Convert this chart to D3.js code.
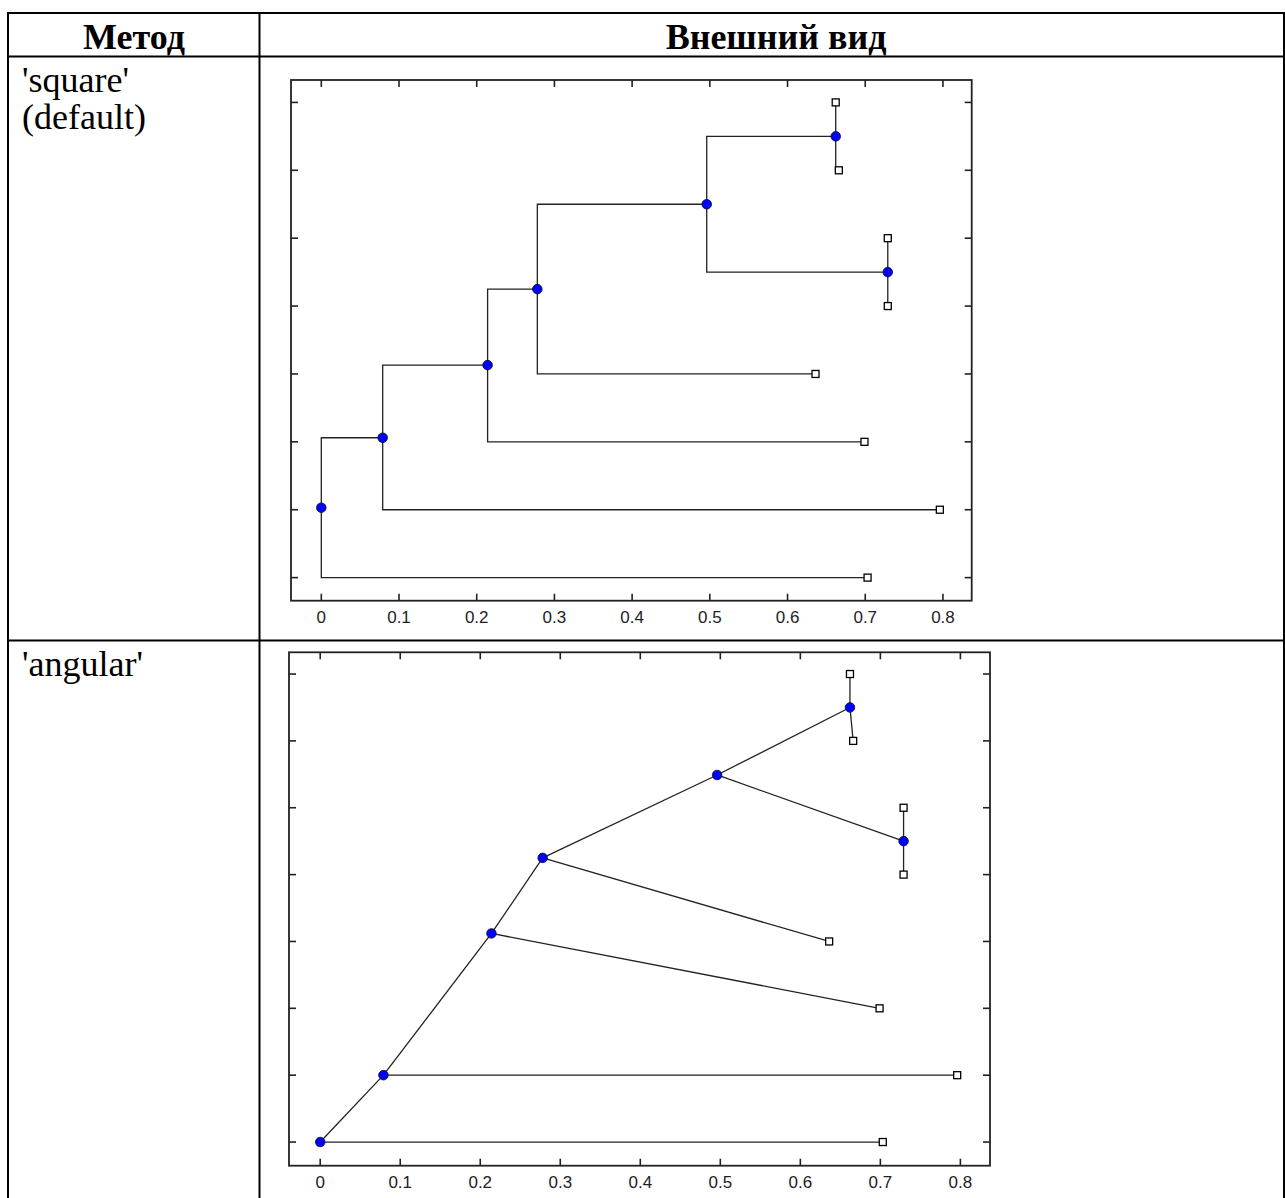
<!DOCTYPE html>
<html>
<head>
<meta charset="utf-8">
<script src="https://cdn.jsdelivr.net/npm/d3@7"></script>
<style>
	body { margin: 0; background: #fff; }
	.cell-text { font-family: "Liberation Serif", "Times New Roman", serif; font-size: 36px; fill: #000; }
	.method { font-size: 36px; }
	.head { font-weight: bold; }
	.tick-label { font-family: "Liberation Sans", Arial, sans-serif; font-size: 17px; fill: #222; }
</style>
</head>
<body>
<svg id="page"></svg>
<script>
// tree nodes: 8 leaves (bottom to top), then 7 internal nodes
const nodeIds = ["L1", "L2", "L3", "L4", "L5", "L6", "L7", "L8", "N1", "N2", "N3", "N4", "N5", "N6", "N7"];
const parentOf = ["N1", "N2", "N3", "N4", "N7", "N7", "N6", "N6", null, "N1", "N2", "N3", "N4", "N5", "N5"];
// distance from root (x)
const nodeDist = [0.703, 0.796, 0.699, 0.636, 0.729, 0.729, 0.666, 0.662, 0, 0.079, 0.214, 0.278, 0.496, 0.662, 0.729];
// vertical positions in each layout
const squareY = [1, 2, 3, 4, 5, 6, 7, 8, 2.03, 3.06, 4.13, 5.25, 6.5, 7.5, 5.5];
const angularY = [1, 2, 3, 4, 5, 6, 7, 8, 1, 2, 4.12, 5.25, 6.49, 7.5, 5.5];

const xTicks = [0, 0.1, 0.2, 0.3, 0.4, 0.5, 0.6, 0.7, 0.8];
const xTickLabels = ["0", "0.1", "0.2", "0.3", "0.4", "0.5", "0.6", "0.7", "0.8"];
const yTicks = [1, 2, 3, 4, 5, 6, 7, 8];

const methods = ["'square'\n(default)", "'angular'"];
const headers = ["Метод", "Внешний вид"];

var W = 1285, H = 1198;
var svg = d3.select("#page").attr("width", W).attr("height", H);

// table grid
var grid = svg.append("g").attr("stroke", "#000").attr("stroke-width", 2);
[[8, 13, 1284, 13], [8, 56.5, 1284, 56.5], [8, 640.5, 1284, 640.5],
 [8, 12, 8, H], [259.5, 12, 259.5, H], [1284, 12, 1284, H]].forEach(l => {
	grid.append("line").attr("x1", l[0]).attr("y1", l[1]).attr("x2", l[2]).attr("y2", l[3]);
});

svg.append("text").attr("class", "cell-text head").attr("x", 134).attr("y", 49)
	.attr("text-anchor", "middle").text(headers[0]);
svg.append("text").attr("class", "cell-text head").attr("x", 776).attr("y", 49)
	.attr("text-anchor", "middle").text(headers[1]);

function methodLabel(txt, y0) {
	var t = svg.append("text").attr("class", "cell-text method").attr("x", 22).attr("y", y0);
	txt.split("\n").forEach((s, i) => {
		t.append("tspan").attr("x", 22).attr("dy", i == 0 ? 0 : 36.5).text(s);
	});
}
methodLabel(methods[0], 92);
methodLabel(methods[1], 676);

function drawTree(box, yDomain, nodeY, type) {
	var x = d3.scaleLinear().domain([-0.039, 0.837]).range([box.x0, box.x1]);
	var y = d3.scaleLinear().domain(yDomain).range([box.y1, box.y0]);
	var g = svg.append("g");

	// tree edges
	var edges = g.append("g").attr("fill", "none").attr("stroke", "#222").attr("stroke-width", 1.3);
	nodeIds.forEach((id, i) => {
		var p = parentOf[i];
		if (!p) return;
		var j = nodeIds.indexOf(p);
		var px = x(nodeDist[j]), py = y(nodeY[j]);
		var cx = x(nodeDist[i]), cy = y(nodeY[i]);
		var d = type == "square"
			? "M" + px + "," + py + "V" + cy + "H" + cx
			: "M" + px + "," + py + "L" + cx + "," + cy;
		edges.append("path").attr("d", d);
	});

	// box and ticks
	g.append("rect").attr("x", box.x0).attr("y", box.y0)
		.attr("width", box.x1 - box.x0).attr("height", box.y1 - box.y0)
		.attr("fill", "none").attr("stroke", "#222").attr("stroke-width", 1.8);

	var tl = 7;
	var ax = g.append("g").attr("stroke", "#222").attr("stroke-width", 1.6);
	xTicks.forEach(v => {
		ax.append("line").attr("x1", x(v)).attr("x2", x(v)).attr("y1", box.y1).attr("y2", box.y1 - tl);
		ax.append("line").attr("x1", x(v)).attr("x2", x(v)).attr("y1", box.y0).attr("y2", box.y0 + tl);
	});
	yTicks.forEach(v => {
		ax.append("line").attr("x1", box.x0).attr("x2", box.x0 + tl).attr("y1", y(v)).attr("y2", y(v));
		ax.append("line").attr("x1", box.x1).attr("x2", box.x1 - tl).attr("y1", y(v)).attr("y2", y(v));
	});
	g.selectAll(".tick-label").data(xTicks).enter().append("text")
		.attr("class", "tick-label")
		.attr("x", d => x(d)).attr("y", box.y1 + 22)
		.attr("text-anchor", "middle")
		.text((d, i) => xTickLabels[i]);

	// leaves
	var s = 7;
	nodeIds.forEach((id, i) => {
		if (id[0] != "L") return;
		g.append("rect").attr("x", x(nodeDist[i]) - s / 2).attr("y", y(nodeY[i]) - s / 2)
			.attr("width", s).attr("height", s)
			.attr("fill", "#fff").attr("stroke", "#000").attr("stroke-width", 1.3);
	});
	// branch points
	nodeIds.forEach((id, i) => {
		if (id[0] != "N") return;
		g.append("circle").attr("cx", x(nodeDist[i])).attr("cy", y(nodeY[i])).attr("r", 4.8)
			.attr("fill", "#0000ff").attr("stroke", "#111").attr("stroke-width", 0.8);
	});
}

drawTree({x0: 291, x1: 971.7, y0: 80, y1: 600.7}, [0.66, 8.33], squareY, "square");
drawTree({x0: 289, x1: 990, y0: 652.3, y1: 1165.7}, [0.646, 8.325], angularY, "angular");
</script>
</body>
</html>
